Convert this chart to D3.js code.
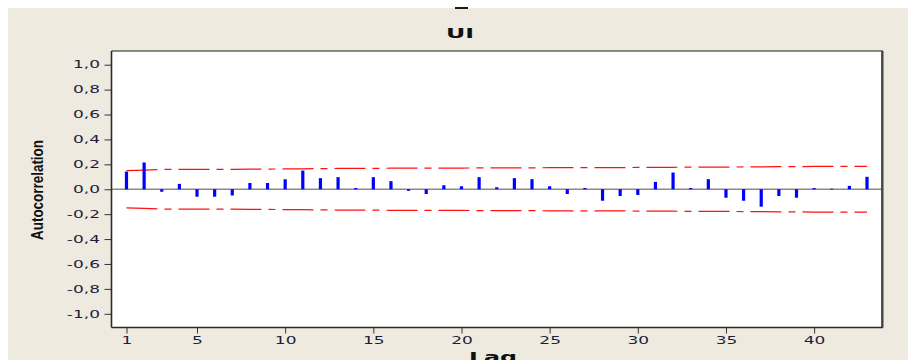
<!DOCTYPE html>
<html>
<head>
<meta charset="utf-8">
<script src="https://cdn.jsdelivr.net/npm/d3@7"></script>
<style>
  html, body { margin: 0; padding: 0; background: #ffffff; }
  svg { display: block; }
</style>
</head>
<body>
<svg id="chart" width="908" height="360"></svg>
<script>
// Autocorrelation function of the UI series, lags 1..43
const lags = d3.range(1, 44);
const acf = [
  0.142, 0.215, -0.020, 0.043, -0.060, -0.060, -0.050, 0.050, 0.050, 0.080,
  0.150, 0.089, 0.097, 0.010, 0.097, 0.065, -0.013, -0.038, 0.032, 0.024,
  0.097, 0.016, 0.089, 0.081, 0.024, -0.038, 0.010, -0.092, -0.054, -0.046,
  0.059, 0.134, 0.010, 0.081, -0.068, -0.092, -0.140, -0.054, -0.068, 0.010,
  0.004, 0.027, 0.100
];
// Approximate 95% significance limits (±) at each lag
const limits = [
  0.149, 0.153, 0.159, 0.159, 0.159, 0.160, 0.160, 0.162, 0.162, 0.163,
  0.164, 0.166, 0.167, 0.168, 0.168, 0.169, 0.170, 0.170, 0.170, 0.170,
  0.171, 0.171, 0.171, 0.172, 0.173, 0.173, 0.173, 0.173, 0.174, 0.175,
  0.175, 0.176, 0.178, 0.178, 0.178, 0.179, 0.180, 0.182, 0.182, 0.183,
  0.183, 0.183, 0.183
];
const xTickValues = [1, 5, 10, 15, 20, 25, 30, 35, 40];
const yTickValues = [-1, -0.8, -0.6, -0.4, -0.2, 0, 0.2, 0.4, 0.6, 0.8, 1];
const chartTitle = "UI";
const xTitle = "Lag";
const yTitle = "Autocorrelation";

const svg = d3.select("#chart");
const W = 908, H = 360;
const frame = { left: 111.5, top: 51, right: 882, bottom: 327.5 };
const sx = 1.7; // horizontal text stretch

// page background
svg.append("rect").attr("x", 8).attr("y", 8).attr("width", W - 8).attr("height", H - 8)
  .attr("fill", "#eeeae0");
svg.append("rect").attr("x", 455).attr("y", 7).attr("width", 13).attr("height", 2)
  .attr("fill", "#1a1a1a");

// plot area
svg.append("rect")
  .attr("x", frame.left).attr("y", frame.top)
  .attr("width", frame.right - frame.left).attr("height", frame.bottom - frame.top)
  .attr("fill", "#ffffff");

const x = d3.scaleLinear().domain([0.15, 43.85]).range([frame.left, frame.right]);
const y = d3.scaleLinear().domain([-1.11, 1.11]).range([frame.bottom, frame.top]);

const fmt = v => d3.format(".1f")(v).replace(".", ",").replace("−", "-");

// zero reference line
svg.append("line")
  .attr("x1", frame.left).attr("x2", frame.right)
  .attr("y1", y(0)).attr("y2", y(0))
  .attr("stroke", "#8a8a8a").attr("stroke-width", 1.4);

// significance limits
const limLine = sign => d3.line()
  .x((d, i) => x(lags[i]))
  .y(d => y(sign * d));
[1, -1].forEach(s => {
  svg.append("path")
    .attr("d", limLine(s)(limits))
    .attr("fill", "none")
    .attr("stroke", "#ff1010")
    .attr("stroke-width", 1.2)
    .attr("stroke-dasharray", "31,7,7,7");
});

// ACF bars
svg.append("g").selectAll("rect")
  .data(acf)
  .join("rect")
  .attr("x", (d, i) => x(lags[i]) - 1.6)
  .attr("width", 3.2)
  .attr("y", d => y(Math.max(0, d)))
  .attr("height", d => Math.max(0.8, Math.abs(y(d) - y(0))))
  .attr("fill", "#0000ff");

// axes
const textColor = "#1e1e3a";
const yAxis = svg.append("g")
  .attr("transform", `translate(${frame.left},0)`)
  .call(d3.axisLeft(y).tickValues(yTickValues).tickSize(7).tickFormat(fmt));
yAxis.select(".domain").remove();
yAxis.selectAll(".tick line").attr("stroke", "#333");
yAxis.selectAll(".tick text")
  .attr("font-family", "'DejaVu Sans', Verdana, sans-serif")
  .attr("font-size", 10)
  .attr("fill", textColor)
  .attr("x", -11.5 / sx)
  .attr("transform", `scale(${sx},1)`);

const xAxis = svg.append("g")
  .attr("transform", `translate(0,${frame.bottom})`)
  .call(d3.axisBottom(x).tickValues(xTickValues).tickSize(6).tickFormat(d3.format("d")));
xAxis.select(".domain").remove();
xAxis.selectAll(".tick line").attr("stroke", "#333");
xAxis.selectAll(".tick text")
  .attr("font-family", "'DejaVu Sans', Verdana, sans-serif")
  .attr("font-size", 10)
  .attr("fill", textColor)
  .attr("y", 17).attr("dy", 0)
  .attr("transform", `scale(${sx},1)`);

// frame border
svg.append("line").attr("x1", frame.left).attr("x2", frame.right + 1)
  .attr("y1", frame.top).attr("y2", frame.top).attr("stroke", "#1a1a1a").attr("stroke-width", 1);
svg.append("line").attr("x1", frame.left).attr("x2", frame.left)
  .attr("y1", frame.top).attr("y2", frame.bottom).attr("stroke", "#2a2a2a").attr("stroke-width", 1.6);
svg.append("line").attr("x1", frame.left).attr("x2", frame.right + 1)
  .attr("y1", frame.bottom).attr("y2", frame.bottom).attr("stroke", "#2a2a2a").attr("stroke-width", 1.6);
svg.append("line").attr("x1", frame.right + 0.3).attr("x2", frame.right + 0.3)
  .attr("y1", frame.top).attr("y2", frame.bottom).attr("stroke", "#444").attr("stroke-width", 2.4);

// titles
svg.append("text")
  .attr("transform", `translate(460,38) scale(${sx},1)`)
  .attr("text-anchor", "middle")
  .attr("font-family", "'DejaVu Sans', Verdana, sans-serif")
  .attr("font-weight", "bold").attr("font-size", 14)
  .attr("fill", "#111")
  .text(chartTitle);

svg.append("text")
  .attr("transform", `translate(493,362) scale(${sx},1)`)
  .attr("text-anchor", "middle")
  .attr("font-family", "'DejaVu Sans', Verdana, sans-serif")
  .attr("font-weight", "bold").attr("font-size", 14)
  .attr("fill", "#111")
  .text(xTitle);

svg.append("text")
  .attr("transform", "translate(42.5,190) scale(1.26,1) rotate(-90)")
  .attr("text-anchor", "middle")
  .attr("font-family", "'Liberation Sans', Arial, sans-serif")
  .attr("font-weight", "bold").attr("font-size", 13)
  .attr("textLength", 100).attr("lengthAdjust", "spacingAndGlyphs")
  .attr("fill", "#111")
  .text(yTitle);
</script>
</body>
</html>
